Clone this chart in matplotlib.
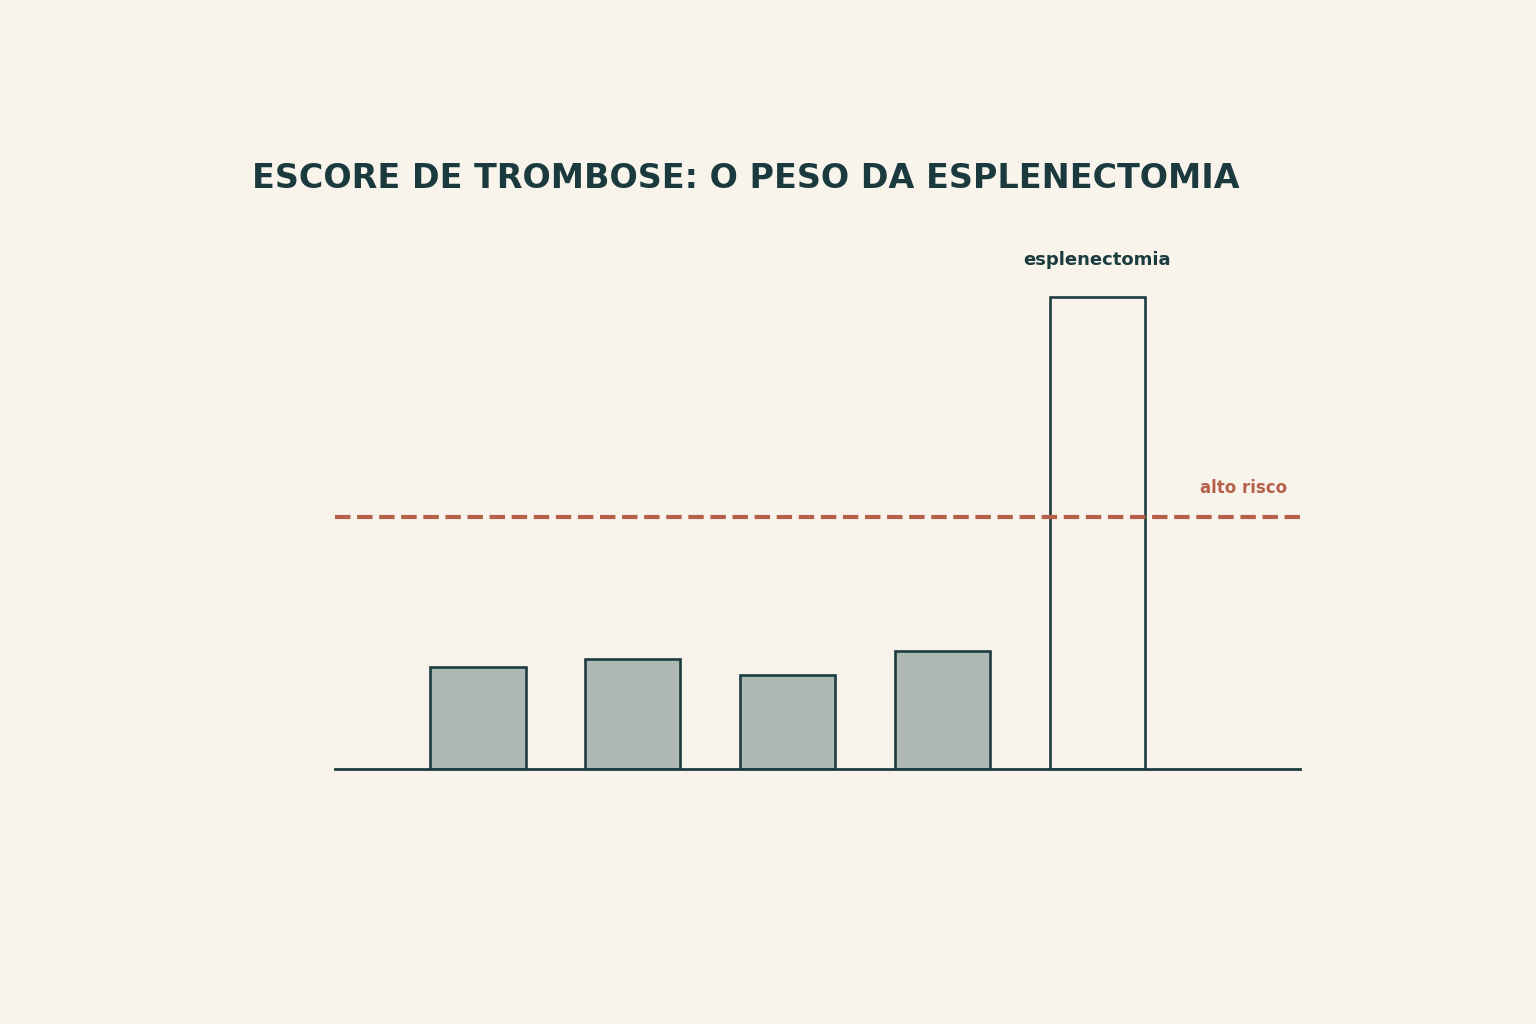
import matplotlib.pyplot as plt

# escore de trombose por fator
fatores = ["fator 1", "fator 2", "fator 3", "fator 4", "esplenectomia"]
escores = [1.62, 1.75, 1.49, 1.87, 7.5]
limiar_alto_risco = 4.0

bg = "#f8f4ec"
escuro = "#1d3c3f"
cinza = "#aeb9b4"
laranja = "#b5614a"

fig = plt.figure(figsize=(15.36, 10.24), dpi=100, facecolor=bg)
# axes: x 335..1300 px, y de 769 (zero) ate 265 (8.0)
ax = fig.add_axes([335 / 1536, 1 - 769 / 1024, 965 / 1536, 504 / 1024])
ax.set_facecolor(bg)

x = list(range(len(fatores)))
cores = [cinza] * (len(fatores) - 1) + [bg]
ax.bar(x, escores, width=0.615, color=cores, edgecolor=escuro, linewidth=1.9, zorder=2)

ax.axhline(limiar_alto_risco, color=laranja, linestyle="--", linewidth=3, zorder=3)
ax.text(5.23, limiar_alto_risco + 0.32, "alto risco", color=laranja, fontsize=12,
        fontweight="bold", ha="right", va="bottom")

ax.text(x[-1], escores[-1] + 0.44, fatores[-1], color=escuro, fontsize=13,
        fontweight="bold", ha="center", va="bottom")

ax.set_xlim(-0.924, 5.31)
ax.set_ylim(0, 8)
for s in ["top", "left", "right"]:
    ax.spines[s].set_visible(False)
ax.spines["bottom"].set_color(escuro)
ax.spines["bottom"].set_linewidth(2)
ax.set_xticks([])
ax.set_yticks([])

fig.text(746 / 1536, 1 - 179 / 1024, "ESCORE DE TROMBOSE: O PESO DA ESPLENECTOMIA",
         color="#1a3a3d", fontsize=24, fontweight="bold", ha="center", va="center")

fig.savefig("out.png", dpi=100, facecolor=bg)
